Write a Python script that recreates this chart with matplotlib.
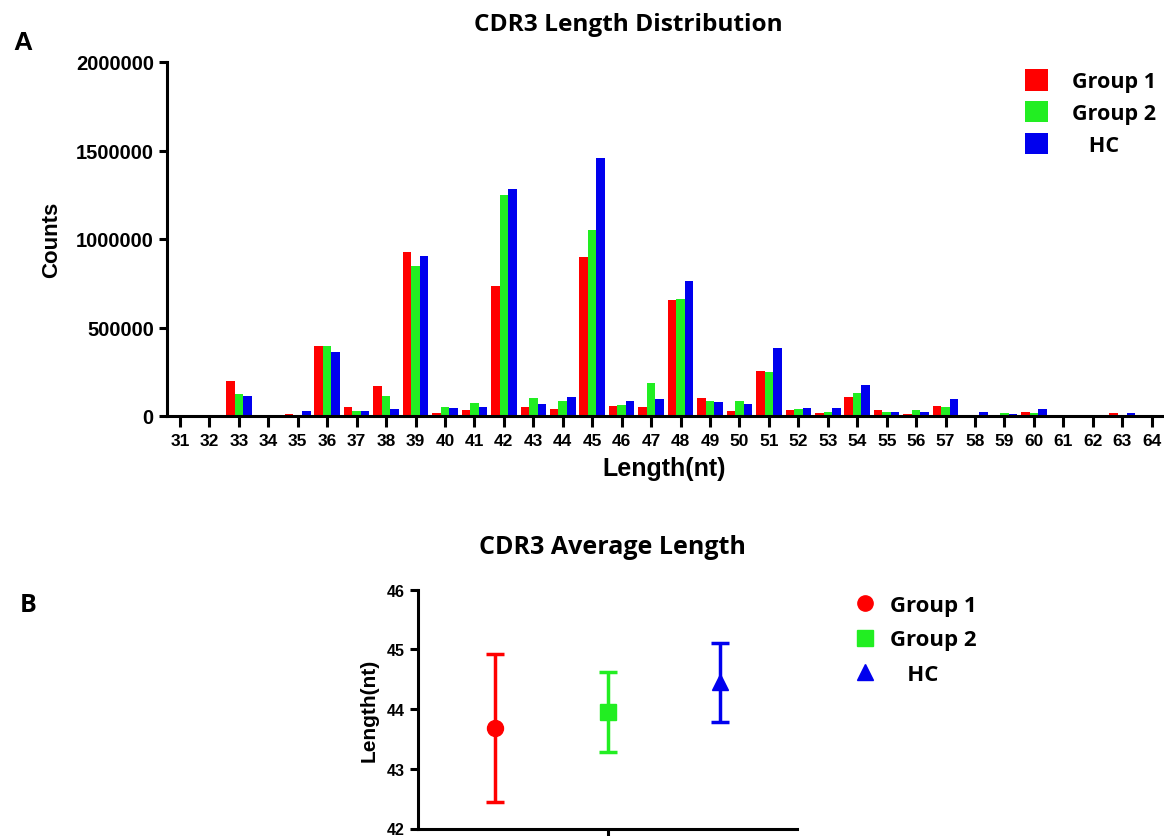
import numpy as np
import matplotlib
matplotlib.use("Agg")
import matplotlib.pyplot as plt
from matplotlib.lines import Line2D

# ---- data ----
lengths = list(range(31, 65))
group1 = [0, 0, 199000, 0, 10000, 397000, 53000, 171000, 925000, 17000,
          34000, 736000, 53000, 40000, 897000, 58000, 53000, 655000, 100000, 26000,
          252000, 32000, 17000, 107000, 32000, 9000, 58000, 0, 0, 24000,
          0, 0, 18000, 0]
group2 = [0, 0, 124000, 5000, 5000, 397000, 30000, 115000, 846000, 53000,
          73000, 1249000, 100000, 87000, 1053000, 64000, 185000, 661000, 87000, 87000,
          247000, 38000, 24000, 130000, 24000, 32000, 51000, 3000, 19000, 17000,
          0, 0, 0, 0]
hc = [0, 0, 115000, 5000, 26000, 363000, 30000, 40000, 902000, 47000,
      53000, 1283000, 66000, 106000, 1456000, 87000, 94000, 764000, 81000, 66000,
      384000, 45000, 45000, 177000, 24000, 24000, 94000, 24000, 10000, 38000,
      8000, 0, 16000, 0]
y_ticks_a = [0, 500000, 1000000, 1500000, 2000000]

groups = ["Group 1", "Group 2", "HC"]
avg_len = [43.69, 43.95, 44.45]
avg_err = [1.24, 0.67, 0.66]

colors = ["#ff0000", "#22ee22", "#0000ee"]
markers = ["o", "s", "^"]

arial = "Liberation Sans"
ui = "Open Sans"

fig = plt.figure(figsize=(11.64, 8.37), dpi=100)

#----- A: length distribution -----
ax = fig.add_axes([167/1164, 1-417/837, (1162-167)/1164, (417-63)/837])
x = np.array(lengths)
w = 0.29
ax.bar(x - w, group1, w, color=colors[0], label="Group 1")
ax.bar(x, group2, w, color=colors[1], label="Group 2")
ax.bar(x + w, hc, w, color=colors[2], label="   HC")
ax.set_xlim(30.56, 64.35)
ax.set_ylim(0, 2000000)
ax.set_xticks(lengths)
ax.set_xticklabels([str(v) for v in lengths], fontfamily=arial, fontweight="bold", fontsize=12.5)
ax.set_yticks(y_ticks_a)
ax.set_yticklabels([str(v) for v in y_ticks_a], fontfamily=arial, fontweight="bold", fontsize=14.5)
for s in ["top", "right"]:
    ax.spines[s].set_visible(False)
for s in ["left", "bottom"]:
    ax.spines[s].set_linewidth(2.2)
ax.tick_params(axis="both", width=2.2, length=6, direction="out")
ax.tick_params(axis="x", length=8, pad=4)
ax.set_xlabel("Length(nt)", fontfamily=arial, fontweight="bold", fontsize=18, labelpad=6)
ax.set_ylabel("Counts", fontfamily=arial, fontweight="bold", fontsize=16, labelpad=10)
ax.legend(loc="upper left", bbox_to_anchor=(1006/1164, 1-51/837), bbox_transform=fig.transFigure,
          frameon=False, prop={"family": ui, "weight": "bold", "size": 15.5},
          handlelength=1.05, handleheight=1.15, handletextpad=1.1, labelspacing=0.4)

fig.text(628/1164, 1-25/837, "CDR3 Length Distribution", ha="center", va="center",
         fontfamily=ui, fontweight="bold", fontsize=17.6)
fig.text(23/1164, 1-43/837, "A", ha="center", va="center", fontfamily=arial, fontweight="bold", fontsize=19)

#----- B: average length -----
bx = fig.add_axes([418/1164, 1-829.5/837, (797-418)/1164, (829.5-590.7)/837])
for i in range(3):
    bx.errorbar(i, avg_len[i], yerr=avg_err[i], fmt=markers[i], color=colors[i],
                markersize=11.5, elinewidth=2.5, capsize=6.5, capthick=2.5, label=groups[i])
bx.set_xlim(-0.685, 2.685)
bx.set_ylim(42, 46)
bx.set_yticks([42, 43, 44, 45, 46])
bx.set_yticklabels(["42", "43", "44", "45", "46"], fontfamily=arial, fontweight="bold", fontsize=11.5)
bx.set_xticks([1])
bx.set_xticklabels([""])
for s in ["top", "right"]:
    bx.spines[s].set_visible(False)
for s in ["left", "bottom"]:
    bx.spines[s].set_linewidth(2.2)
bx.tick_params(axis="both", width=2.2, length=6, direction="out")
bx.set_ylabel("Length(nt)", fontfamily=arial, fontweight="bold", fontsize=15, labelpad=6)

handles = [Line2D([], [], marker=markers[i], color=colors[i], linestyle="none", markersize=11)
           for i in range(3)]
bx.legend(handles, ["Group 1", "Group 2", "   HC"], loc="upper left",
          bbox_to_anchor=(834/1164, 1-576/837), bbox_transform=fig.transFigure,
          frameon=False, prop={"family": ui, "weight": "bold", "size": 16},
          handlelength=1.0, handletextpad=0.6, labelspacing=0.6)

fig.text(612/1164, 1-548/837, "CDR3 Average Length", ha="center", va="center",
         fontfamily=ui, fontweight="bold", fontsize=18)
fig.text(28/1164, 1-606/837, "B", ha="center", va="center", fontfamily=ui, fontweight="bold", fontsize=18)

fig.savefig("out.png", dpi=100)
